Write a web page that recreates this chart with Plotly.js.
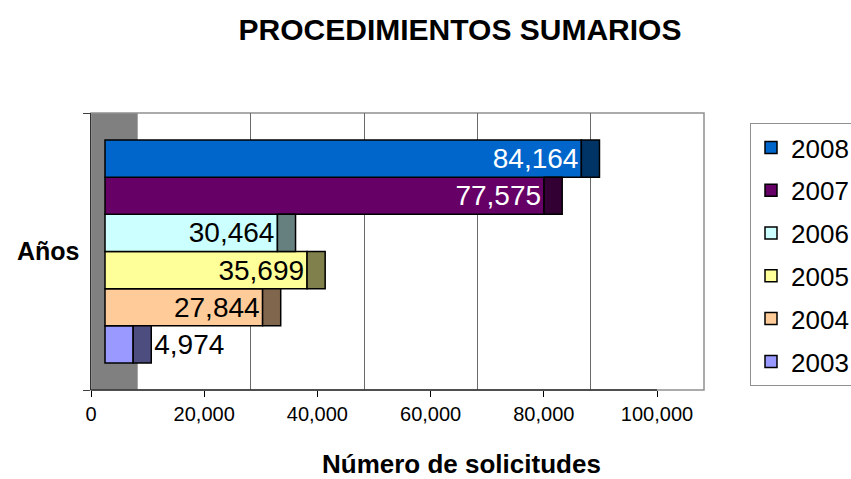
<!DOCTYPE html>
<html>
<head>
<meta charset="utf-8">
<script src="https://cdn.plot.ly/plotly-3.0.1.min.js"></script>
<style>html,body{margin:0;padding:0;background:#fff;}</style>
</head>
<body>
<div id="chart" style="width:851px;height:479px;"></div>
<script>
// ---- data ----
const category = 'Años';
const years = ['2003', '2004', '2005', '2006', '2007', '2008'];
const values = [4974, 27844, 35699, 30464, 77575, 84164];
const tickValues = [0, 20000, 40000, 60000, 80000, 100000];
const chartTitle = 'PROCEDIMIENTOS SUMARIOS';
const xTitle = 'Número de solicitudes';

// ---- style ----
const faceColors = ['#9999FF', '#FFCC99', '#FFFF99', '#CCFFFF', '#660066', '#0066CC'];
const sideColors = ['#4D4D80', '#80664D', '#80804D', '#668080', '#330033', '#003366'];
const labelColors = ['#000000', '#000000', '#000000', '#000000', '#FFFFFF', '#FFFFFF'];
const FONT = 'Liberation Sans, Arial, sans-serif';
const DEPTH = 3200;            // visual depth of the 3D bar side (value units)
const PX_PER_UNIT = 113.2 / 20000;
const PLOT_W = 613;            // plot area width in px
const BAR_SHIFT = 14 / PX_PER_UNIT;   // front of bars offset from axis zero
const WALL_SHIFT = 46.7 / PX_PER_UNIT; // back wall offset from axis zero
const FULL = PLOT_W / PX_PER_UNIT;

const traces = [];
years.forEach((yr, i) => {
  const small = values[i] < 10000;
  traces.push({
    type: 'bar', orientation: 'h', name: yr,
    y: [category], x: [values[i]],
    xaxis: 'x2', yaxis: 'y',
    offsetgroup: yr, legendgroup: yr, legendrank: years.length - i,
    marker: { color: faceColors[i], line: { color: '#000', width: 1.5 } },
    text: small ? [''] : [values[i].toLocaleString('en-US')],
    textposition: 'inside', insidetextanchor: 'end', constraintext: 'none',
    textfont: { family: FONT, size: 28, color: labelColors[i] },
    hoverinfo: 'x+name'
  });
});
years.forEach((yr, i) => {
  const small = values[i] < 10000;
  traces.push({
    type: 'bar', orientation: 'h', name: yr + ' side',
    y: [category], x: [DEPTH], base: [values[i]],
    xaxis: 'x2', yaxis: 'y',
    offsetgroup: yr, legendgroup: yr, legendrank: years.length - i, showlegend: false,
    marker: { color: sideColors[i], line: { color: '#000', width: 1.5 } },
    text: small ? [values[i].toLocaleString('en-US')] : [''],
    textposition: 'outside', constraintext: 'none', cliponaxis: false,
    textfont: { family: FONT, size: 28, color: '#000' },
    hoverinfo: 'skip'
  });
});

const layout = {
  width: 851, height: 479, autosize: false,
  margin: { l: 91, r: 147, t: 113, b: 89, pad: 0, autoexpand: false },
  paper_bgcolor: '#fff', plot_bgcolor: '#fff',
  font: { family: FONT, color: '#000' },
  showlegend: true,
  title: {
    text: chartTitle, font: { family: FONT, size: 30, weight: 'bold', color: '#000' },
    x: 460 / 851, xanchor: 'center', xref: 'container',
    y: 1 - 29 / 479, yanchor: 'middle', yref: 'container'
  },
  barmode: 'group', bargap: 0.195, bargroupgap: 0,
  xaxis: {
    range: [0, FULL], tickvals: tickValues, tickformat: ',',
    ticks: 'outside', ticklen: 6, tickcolor: '#000', tickwidth: 1,
    tickfont: { family: FONT, size: 20, color: '#000' },
    showgrid: false, zeroline: false, showline: false, fixedrange: true, automargin: false
  },
  xaxis2: {
    overlaying: 'x', range: [-BAR_SHIFT, FULL - BAR_SHIFT],
    showticklabels: false, ticks: '', showgrid: false, zeroline: false, showline: false
  },
  xaxis3: {
    overlaying: 'x', range: [-WALL_SHIFT, FULL - WALL_SHIFT],
    tickvals: tickValues.slice(1, 5), showticklabels: false, ticks: '',
    showgrid: true, gridcolor: '#6a6a6a', gridwidth: 1, zeroline: false, showline: false
  },
  yaxis: {
    type: 'category', range: [-0.5, 0.5],
    ticks: 'outside', tickson: 'boundaries', ticklen: 7, tickcolor: '#404040',
    ticklabelstandoff: 5,
    tickfont: { family: FONT, size: 25, weight: 'bold', color: '#000' },
    showline: true, linecolor: '#303030', linewidth: 1.5,
    showgrid: false, zeroline: false, fixedrange: true, automargin: false
  },
  legend: {
    x: (750 - 91) / PLOT_W, xanchor: 'left', y: (390 - 123) / 277, yanchor: 'top',
    traceorder: 'grouped', bordercolor: '#909090', borderwidth: 1, bgcolor: '#fff',
    font: { family: FONT, size: 26, color: '#000' }, tracegroupgap: 6
  },
  shapes: [
    { type: 'rect', xref: 'x3', yref: 'paper', x0: -WALL_SHIFT, x1: 0, y0: 0, y1: 1,
      fillcolor: '#808080', line: { width: 0 }, layer: 'below' },
    { type: 'rect', xref: 'paper', yref: 'paper', x0: 0, x1: 1, y0: 0, y1: 1,
      line: { color: '#909090', width: 1.5 }, layer: 'below' },
    { type: 'line', xref: 'x', yref: 'paper', x0: 0, x1: tickValues[tickValues.length - 1], y0: 0, y1: 0,
      line: { color: '#303030', width: 1.5 }, layer: 'above' }
  ],
  annotations: [
    { text: xTitle, xref: 'paper', yref: 'paper', x: (461.5 - 91) / PLOT_W, y: (390 - 464) / 277,
      xanchor: 'center', yanchor: 'middle', showarrow: false,
      font: { family: FONT, size: 26, weight: 'bold', color: '#000' } }
  ]
};

Plotly.newPlot('chart', traces, layout, { staticPlot: true, displayModeBar: false });
</script>
</body>
</html>
